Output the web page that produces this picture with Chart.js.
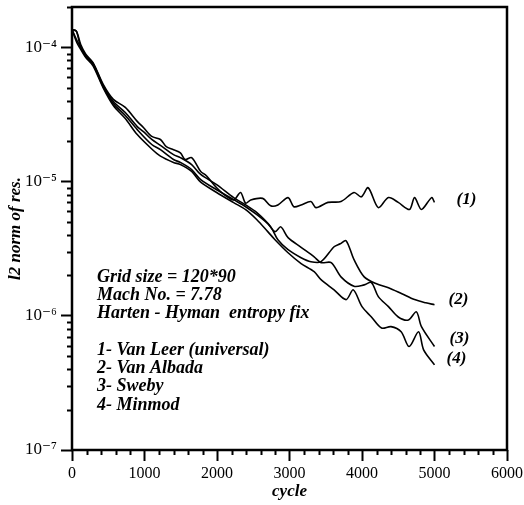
<!DOCTYPE html>
<html>
<head>
<meta charset="utf-8">
<script src="https://cdn.jsdelivr.net/npm/chart.js@4.4.1/dist/chart.umd.min.js"></script>
<style>
  html, body { margin: 0; padding: 0; background: #fff; }
</style>
</head>
<body>
<canvas id="residChart" width="524" height="505"></canvas>
<script>
// values (cycle, l2 norm of residual)
const cycles1 = [0, 60, 120, 190, 290, 430, 570, 735, 900, 985, 1100, 1220, 1300, 1400, 1495, 1560, 1650, 1775, 1850, 1995, 2100, 2230, 2325, 2395, 2465, 2630, 2740, 2840, 2980, 3060, 3160, 3295, 3365, 3530, 3710, 3890, 3990, 4085, 4225, 4365, 4500, 4655, 4725, 4820, 4960, 5000];
const resid1 = [1.36e-4, 1.32e-4, 1.05e-4, 8.9e-5, 7.7e-5, 5.3e-5, 4.1e-5, 3.57e-5, 2.81e-5, 2.53e-5, 2.17e-5, 2.06e-5, 1.82e-5, 1.73e-5, 1.64e-5, 1.46e-5, 1.51e-5, 1.19e-5, 1.11e-5, 9.0e-6, 8.0e-6, 7.3e-6, 8.3e-6, 6.9e-6, 7.3e-6, 7.5e-6, 6.6e-6, 6.7e-6, 7.6e-6, 6.5e-6, 6.7e-6, 7.1e-6, 6.4e-6, 7.0e-6, 7.1e-6, 8.3e-6, 7.7e-6, 9.0e-6, 6.4e-6, 7.6e-6, 7.0e-6, 6.2e-6, 7.6e-6, 6.2e-6, 7.6e-6, 7.0e-6];

const cycles2 = [0, 60, 120, 190, 290, 430, 570, 735, 900, 985, 1100, 1220, 1400, 1495, 1650, 1775, 1995, 2230, 2395, 2550, 2740, 2840, 2980, 3160, 3295, 3435, 3615, 3700, 3780, 3890, 4030, 4200, 4365, 4550, 4725, 4880, 5000];
const resid2 = [1.36e-4, 1.15e-4, 1.0e-4, 8.57e-5, 7.6e-5, 5.2e-5, 3.95e-5, 3.27e-5, 2.57e-5, 2.36e-5, 2.06e-5, 1.86e-5, 1.59e-5, 1.51e-5, 1.34e-5, 1.13e-5, 9.5e-6, 7.6e-6, 6.7e-6, 5.87e-6, 4.61e-6, 3.69e-6, 3.11e-6, 2.71e-6, 2.53e-6, 2.53e-6, 3.27e-6, 3.44e-6, 3.63e-6, 2.62e-6, 1.95e-6, 1.73e-6, 1.62e-6, 1.46e-6, 1.32e-6, 1.25e-6, 1.21e-6];

const cycles3 = [0, 60, 120, 190, 290, 430, 570, 735, 900, 1100, 1220, 1400, 1495, 1650, 1775, 1995, 2230, 2395, 2550, 2700, 2800, 2880, 2980, 3160, 3340, 3435, 3575, 3710, 3890, 4030, 4130, 4225, 4365, 4500, 4640, 4750, 4820, 5000];
const resid3 = [1.36e-4, 1.32e-4, 1.0e-4, 8.7e-5, 7.46e-5, 5.1e-5, 3.82e-5, 3.11e-5, 2.44e-5, 1.89e-5, 1.73e-5, 1.46e-5, 1.39e-5, 1.23e-5, 1.035e-5, 8.7e-6, 7.34e-6, 6.5e-6, 5.67e-6, 4.86e-6, 4.24e-6, 4.6e-6, 3.82e-6, 3.24e-6, 2.75e-6, 2.49e-6, 2.49e-6, 1.95e-6, 1.66e-6, 1.70e-6, 1.77e-6, 1.39e-6, 1.17e-6, 9.8e-7, 9.3e-7, 1.07e-6, 8.3e-7, 5.9e-7];

const cycles4 = [0, 60, 120, 190, 290, 430, 570, 735, 900, 1100, 1220, 1400, 1495, 1650, 1775, 1995, 2230, 2395, 2550, 2700, 2800, 2980, 3160, 3340, 3435, 3615, 3780, 3880, 4000, 4130, 4270, 4400, 4540, 4650, 4780, 4850, 5000];
const resid4 = [1.36e-4, 1.11e-4, 9.66e-5, 8.4e-5, 7.3e-5, 5.0e-5, 3.69e-5, 2.95e-5, 2.24e-5, 1.75e-5, 1.55e-5, 1.39e-5, 1.34e-5, 1.19e-5, 9.9e-6, 8.3e-6, 6.97e-6, 6.18e-6, 5.2e-6, 4.24e-6, 3.69e-6, 2.95e-6, 2.45e-6, 2.13e-6, 1.86e-6, 1.56e-6, 1.32e-6, 1.56e-6, 1.17e-6, 9.8e-7, 8.1e-7, 8.3e-7, 7.6e-7, 5.9e-7, 7.6e-7, 5.58e-7, 4.31e-7];

const curveTags = ['(1)', '(2)', '(3)', '(4)'];
const infoLines = ['Grid size = 120*90', 'Mach No. = 7.78', 'Harten - Hyman  entropy fix', '', '1- Van Leer (universal)', '2- Van Albada', '3- Sweby', '4- Minmod'];

const serif = "'Liberation Serif', 'DejaVu Serif', serif";

function toPoints(xs, ys) {
    return xs.map((x, i) => ({ x: x, y: ys[i] }));
}

function isDecade(v) {
    const l = Math.log10(v);
    return Math.abs(l - Math.round(l)) < 1e-6;
}

const supDigits = { '-': '\u207B', '0': '\u2070', '1': '\u00B9', '2': '\u00B2', '3': '\u00B3', '4': '\u2074', '5': '\u2075', '6': '\u2076', '7': '\u2077', '8': '\u2078', '9': '\u2079' };

// box round the plot, short minor ticks, curve tags and the info block
const framePlugin = {
    id: 'plotFrame',
    afterDraw(chart) {
        const ctx = chart.ctx;
        const a = chart.chartArea;
        const xs = chart.scales.x;
        const ys = chart.scales.y;
        ctx.save();
        ctx.strokeStyle = '#000';
        ctx.lineWidth = 2;
        ctx.beginPath();
        for (let e = -7; e <= -4; e++) {
            for (let m = 2; m <= 9; m++) {
                const v = m * Math.pow(10, e);
                if (v > ys.max * 1.0001) break;
                const py = Math.round(ys.getPixelForValue(v)) + 0.5;
                ctx.moveTo(a.left, py);
                ctx.lineTo(a.left - 5, py);
            }
        }
        for (let v = xs.min; v <= xs.max; v += 200) {
            if (v % 1000 === 0) continue;
            const px = Math.round(xs.getPixelForValue(v)) + 0.5;
            ctx.moveTo(px, a.bottom);
            ctx.lineTo(px, a.bottom + 5);
        }
        ctx.stroke();
        ctx.lineWidth = 2.5;
        ctx.strokeRect(a.left, a.top, a.right - a.left, a.bottom - a.top);

        // curve tags at the end of each curve
        ctx.fillStyle = '#000';
        ctx.font = 'italic bold 17px ' + serif;
        ctx.textBaseline = 'middle';
        ctx.textAlign = 'left';
        const tagShift = [[22, -3], [14, -5], [15, -8], [12, -6]];
        chart.data.datasets.forEach((ds, i) => {
            const last = ds.data[ds.data.length - 1];
            const px = xs.getPixelForValue(last.x) + tagShift[i][0];
            const py = ys.getPixelForValue(last.y) + tagShift[i][1];
            ctx.fillText(curveTags[i], px, py);
        });

        // info block
        ctx.font = 'italic bold 18px ' + serif;
        let ty = 277;
        infoLines.forEach(line => {
            ctx.fillText(line, a.left + 25, ty);
            ty += 18.3;
        });
        ctx.restore();
    }
};

const lineStyle = {
    borderColor: '#000',
    borderWidth: 1.6,
    pointRadius: 0,
    fill: false,
    tension: 0.3
};

new Chart(document.getElementById('residChart'), {
    type: 'line',
    data: {
        datasets: [
            Object.assign({ label: '1- Van Leer (universal)', data: toPoints(cycles1, resid1) }, lineStyle),
            Object.assign({ label: '2- Van Albada', data: toPoints(cycles2, resid2) }, lineStyle),
            Object.assign({ label: '3- Sweby', data: toPoints(cycles3, resid3) }, lineStyle),
            Object.assign({ label: '4- Minmod', data: toPoints(cycles4, resid4) }, lineStyle)
        ]
    },
    options: {
        responsive: false,
        animation: false,
        layout: { padding: { top: 7, right: 17, left: 0, bottom: 0 } },
        plugins: {
            legend: { display: false },
            tooltip: { enabled: false }
        },
        scales: {
            x: {
                type: 'linear',
                min: 0,
                max: 6000,
                // long ticks at the thousands come from the library itself
                grid: {
                    display: true,
                    drawOnChartArea: false,
                    drawTicks: true,
                    tickLength: 11,
                    tickWidth: 2,
                    tickColor: c => (c.tick && c.tick.value % 1000 === 0 ? '#000' : 'rgba(0,0,0,0)')
                },
                border: { display: false },
                ticks: {
                    stepSize: 200,
                    autoSkip: false,
                    maxRotation: 0,
                    padding: 3,
                    color: '#000',
                    font: { family: serif, size: 16 },
                    callback: v => (v % 1000 === 0 ? String(v) : '')
                },
                title: {
                    display: true,
                    text: 'cycle',
                    color: '#000',
                    font: { family: serif, size: 17, style: 'italic', weight: 'bold' },
                    padding: { top: 0, bottom: 3 }
                },
                afterFit: s => {
                    s.height = 55;
                    s.paddingLeft = 0;
                    s.paddingRight = 0;
                }
            },
            y: {
                type: 'logarithmic',
                min: 1e-7,
                max: 2e-4,
                grid: {
                    display: true,
                    drawOnChartArea: false,
                    drawTicks: true,
                    tickLength: 11,
                    tickWidth: 2,
                    tickColor: c => (c.tick && isDecade(c.tick.value) ? '#000' : 'rgba(0,0,0,0)')
                },
                border: { display: false },
                ticks: {
                    autoSkip: false,
                    padding: 4,
                    color: '#000',
                    font: { family: serif, size: 17 },
                    callback: v => {
                        if (!isDecade(v)) return '';
                        const e = String(Math.round(Math.log10(v)));
                        return '10' + e.split('').map(c => supDigits[c]).join('');
                    }
                },
                title: {
                    display: true,
                    text: 'l2 norm of res.',
                    color: '#000',
                    font: { family: serif, size: 17, style: 'italic', weight: 'bold' },
                    padding: { top: 5, bottom: 0 }
                },
                afterFit: s => {
                    s.width = 72;
                    s.paddingTop = 0;
                    s.paddingBottom = 0;
                }
            }
        }
    },
    plugins: [framePlugin]
});
</script>
</body>
</html>
